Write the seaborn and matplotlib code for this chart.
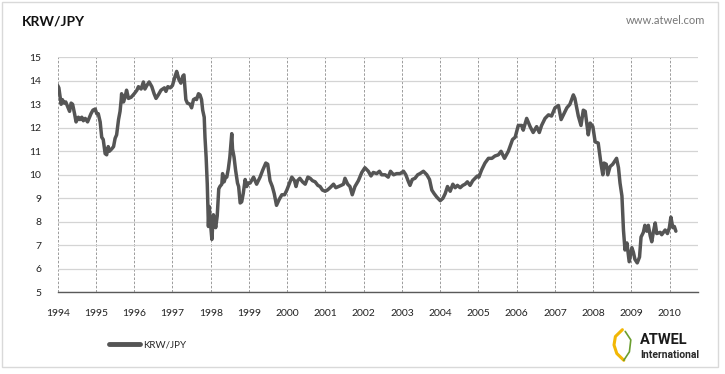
import matplotlib
matplotlib.use("Agg")
import matplotlib.pyplot as plt
import seaborn as sns
import pandas as pd

# decimal year / KRW per JPY
years = [
    1994.00, 1994.03, 1994.09, 1994.12, 1994.17, 1994.21, 1994.26, 1994.31, 1994.35, 1994.39,
    1994.44, 1994.48, 1994.54, 1994.58, 1994.63, 1994.67, 1994.72, 1994.78, 1994.83, 1994.87,
    1994.92, 1994.98, 1995.02, 1995.06, 1995.11, 1995.15, 1995.19, 1995.24, 1995.28, 1995.32,
    1995.35, 1995.41, 1995.46, 1995.50, 1995.54, 1995.59, 1995.63, 1995.66, 1995.67, 1995.72,
    1995.76, 1995.80, 1995.85, 1995.92, 1996.00, 1996.07, 1996.11, 1996.18, 1996.24, 1996.28,
    1996.33, 1996.39, 1996.46, 1996.52, 1996.57, 1996.63, 1996.70, 1996.79, 1996.83, 1996.88,
    1996.94, 1997.00, 1997.07, 1997.11, 1997.17, 1997.22, 1997.27, 1997.30, 1997.35, 1997.39,
    1997.46, 1997.50, 1997.55, 1997.60, 1997.63, 1997.68, 1997.72, 1997.76, 1997.79, 1997.83,
    1997.85, 1997.88, 1997.91, 1997.94, 1997.96, 1997.98, 1998.01, 1998.03, 1998.07, 1998.10,
    1998.13, 1998.17, 1998.21, 1998.24, 1998.29, 1998.31, 1998.35, 1998.39, 1998.42, 1998.46,
    1998.50, 1998.55, 1998.57, 1998.61, 1998.65, 1998.70, 1998.73, 1998.77, 1998.81, 1998.85,
    1998.90, 1998.94, 1998.98, 1999.03, 1999.12, 1999.20, 1999.29, 1999.36, 1999.44, 1999.49,
    1999.55, 1999.61, 1999.66, 1999.72, 1999.79, 1999.86, 1999.93, 1999.99, 2000.05, 2000.12,
    2000.19, 2000.23, 2000.27, 2000.33, 2000.40, 2000.47, 2000.54, 2000.60, 2000.66, 2000.73,
    2000.80, 2000.86, 2000.92, 2000.99, 2001.05, 2001.12, 2001.21, 2001.27, 2001.34, 2001.41,
    2001.47, 2001.51, 2001.58, 2001.64, 2001.70, 2001.77, 2001.86, 2001.95, 2002.03, 2002.12,
    2002.19, 2002.25, 2002.34, 2002.41, 2002.47, 2002.56, 2002.64, 2002.70, 2002.78, 2002.86,
    2002.95, 2003.04, 2003.10, 2003.17, 2003.21, 2003.27, 2003.34, 2003.41, 2003.47, 2003.56,
    2003.65, 2003.72, 2003.78, 2003.84, 2003.91, 2004.00, 2004.07, 2004.13, 2004.19, 2004.26,
    2004.33, 2004.39, 2004.45, 2004.52, 2004.59, 2004.65, 2004.71, 2004.78, 2004.85, 2004.91,
    2004.97, 2005.01, 2005.08, 2005.17, 2005.26, 2005.35, 2005.43, 2005.52, 2005.59, 2005.68,
    2005.78, 2005.89, 2005.96, 2006.04, 2006.13, 2006.17, 2006.26, 2006.35, 2006.43, 2006.52,
    2006.59, 2006.65, 2006.74, 2006.83, 2006.91, 2007.00, 2007.09, 2007.16, 2007.22, 2007.31,
    2007.39, 2007.48, 2007.52, 2007.61, 2007.68, 2007.74, 2007.79, 2007.87, 2007.92, 2007.99,
    2008.05, 2008.13, 2008.20, 2008.25, 2008.28, 2008.34, 2008.38, 2008.44, 2008.51, 2008.57,
    2008.61, 2008.66, 2008.70, 2008.75, 2008.79, 2008.83, 2008.88, 2008.94, 2009.01, 2009.05,
    2009.09, 2009.15, 2009.21, 2009.25, 2009.31, 2009.35, 2009.40, 2009.44, 2009.49, 2009.53,
    2009.57, 2009.62, 2009.66, 2009.75, 2009.79, 2009.88, 2009.94, 2009.99, 2010.03, 2010.08,
    2010.12, 2010.16,
]
krw_jpy = [
    13.8, 13.7, 13.0, 13.2, 13.05, 13.1, 12.9, 12.7, 13.05, 13.0,
    12.6, 12.25, 12.45, 12.35, 12.45, 12.3, 12.4, 12.25, 12.45, 12.6,
    12.75, 12.8, 12.6, 12.6, 12.25, 11.6, 11.5, 10.9, 10.85, 11.2,
    11.0, 11.1, 11.2, 11.55, 11.7, 12.35, 12.7, 13.2, 13.45, 13.1,
    13.3, 13.6, 13.25, 13.3, 13.45, 13.6, 13.75, 13.65, 13.95, 13.65,
    13.8, 13.95, 13.75, 13.45, 13.25, 13.4, 13.6, 13.7, 13.55, 13.75,
    13.7, 13.8, 14.2, 14.4, 14.05, 13.9, 14.2, 14.25, 13.2, 13.05,
    13.0, 12.85, 13.2, 13.25, 13.2, 13.45, 13.4, 13.2, 12.75, 12.45,
    11.6, 10.75, 9.6, 7.8, 8.65, 8.2, 7.6, 7.25, 8.3, 8.1,
    7.75, 8.25, 9.4, 9.5, 9.6, 10.05, 9.7, 9.9, 9.9, 10.25,
    10.75, 11.75, 11.1, 10.75, 10.2, 9.65, 9.5, 8.8, 8.85, 9.2,
    9.8, 9.5, 9.65, 9.65, 9.9, 9.6, 9.9, 10.2, 10.5, 10.45,
    9.75, 9.5, 9.2, 8.7, 8.95, 9.15, 9.15, 9.35, 9.6, 9.9,
    9.75, 9.5, 9.75, 9.85, 9.7, 9.6, 9.9, 9.85, 9.75, 9.7,
    9.55, 9.5, 9.35, 9.3, 9.35, 9.45, 9.6, 9.45, 9.5, 9.55,
    9.6, 9.85, 9.6, 9.5, 9.15, 9.5, 9.75, 10.1, 10.3, 10.15,
    9.95, 10.1, 10.05, 10.15, 10.0, 10.0, 9.9, 10.15, 10.0, 10.05,
    10.05, 10.15, 10.0, 9.7, 9.55, 9.8, 9.85, 10.0, 10.05, 10.15,
    10.0, 9.8, 9.35, 9.2, 9.05, 8.9, 9.0, 9.2, 9.5, 9.3,
    9.6, 9.45, 9.55, 9.45, 9.55, 9.6, 9.7, 9.55, 9.75, 9.85,
    9.95, 9.9, 10.2, 10.5, 10.7, 10.7, 10.8, 10.85, 11.0, 10.7,
    11.0, 11.5, 11.6, 12.1, 12.1, 11.9, 12.4, 12.05, 11.8, 12.05,
    11.8, 12.1, 12.4, 12.55, 12.5, 12.85, 12.95, 12.35, 12.55, 12.85,
    13.0, 13.4, 13.25, 12.5, 12.1, 12.75, 12.7, 11.7, 12.2, 12.05,
    11.4, 11.35, 10.5, 10.0, 10.5, 10.45, 10.0, 10.35, 10.45, 10.6,
    10.7, 10.3, 9.65, 9.1, 7.65, 6.8, 7.1, 6.3, 6.9, 6.7,
    6.4, 6.25, 6.5, 7.35, 7.55, 7.85, 7.6, 7.85, 7.4, 7.15,
    7.55, 7.95, 7.5, 7.55, 7.45, 7.65, 7.5, 7.75, 8.2, 7.75,
    7.8, 7.6,
]
year_ticks = list(range(1994, 2011))
y_ticks = list(range(5, 16))

df = pd.DataFrame({"year": years, "KRW/JPY": krw_jpy})

sns.set_style("white")
plt.rcParams["font.family"] = ["Lato", "DejaVu Sans"]

fig = plt.figure(figsize=(7.25, 3.74), dpi=100)
ax = fig.add_axes([0.0796, 0.2185, 0.8827, 0.6283])

sns.lineplot(data=df, x="year", y="KRW/JPY", color="#555555", linewidth=2.5,
             ax=ax, label="KRW/JPY")

ax.set_xlim(1994, 2010.73)
ax.set_ylim(5, 15)
ax.set_xticks(year_ticks)
ax.set_yticks(y_ticks)
ax.set_xlabel("")
ax.set_ylabel("")
ax.tick_params(axis="x", length=5, width=0.8, color="#595959", pad=7,
               labelsize=7.5, labelcolor="#222222")
ax.tick_params(axis="y", length=0, pad=12, labelsize=7.5, labelcolor="#222222")

ax.grid(axis="y", color="#d4d4d4", linewidth=0.9)
ax.grid(axis="x", color="#8c8c8c", linewidth=0.6, linestyle=(0, (3, 2)))
ax.set_axisbelow(True)
for s in ["top", "right", "left"]:
    ax.spines[s].set_visible(False)
ax.spines["bottom"].set_color("#595959")
ax.spines["bottom"].set_linewidth(1.0)

leg = ax.legend(loc="center left", bbox_to_anchor=(100 / 725, 1 - 345 / 374),
                bbox_transform=fig.transFigure, frameon=False, fontsize=7,
                handlelength=3.2, handletextpad=0.3)
for line in leg.get_lines():
    line.set_linewidth(3.5)

# header texts
fig.text(22 / 725, 1 - 21 / 374, "KRW/JPY", fontsize=10, fontweight="bold",
         color="#111111", va="center", ha="left")
fig.text(705 / 725, 1 - 21 / 374, "www.atwel.com", fontsize=8, color="#777777",
         va="center", ha="right")

# logo text
fig.text(640 / 725, 1 - 340 / 374, "ATWEL", fontsize=10.5, fontweight="bold",
         color="#1a1a1a", va="center", ha="left", family=["Roboto", "DejaVu Sans"])
fig.text(640 / 725, 1 - 355 / 374, "International", fontsize=7.5, fontweight="bold",
         color="#2a2a2a", va="center", ha="left", family=["Roboto", "DejaVu Sans"])
logo = fig.add_axes([607 / 725, 1 - 362 / 374, 28 / 725, 34 / 374])
logo.axis("off")
logo.set_xlim(0, 1)
logo.set_ylim(0, 1)
logo.plot([0.55, 0.3, 0.25, 0.35, 0.6], [0.95, 0.75, 0.5, 0.25, 0.05],
          color="#f2b705", linewidth=2.2, solid_capstyle="round")
logo.plot([0.65, 0.85, 0.8, 0.6], [0.9, 0.65, 0.3, 0.05],
          color="#6a9e2f", linewidth=1.2, solid_capstyle="round")

# outer frame
fig.patches.append(plt.Rectangle((0.003, 0.02), 0.987, 0.975, transform=fig.transFigure,
                                 fill=False, edgecolor="#d9d9d9", linewidth=1.0))

fig.savefig("out.png", dpi=100)
